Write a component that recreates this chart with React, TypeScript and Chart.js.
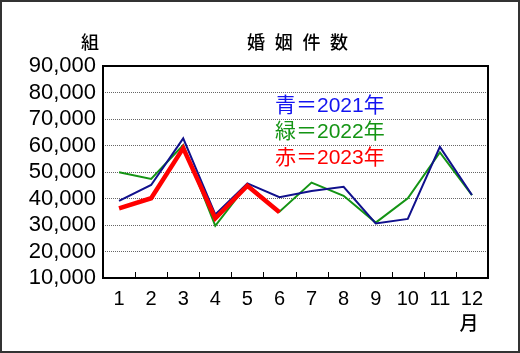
import React, { useEffect, useRef } from "react";
import { Chart, registerables } from "chart.js";

Chart.register(...registerables);

const months = ["1", "2", "3", "4", "5", "6", "7", "8", "9", "10", "11", "12"];
const y2021 = [39100, 45100, 62700, 34000, 45700, 40500, 42800, 44400, 30600, 32300, 59500, 41300];
const y2022 = [49900, 47400, 60200, 29700, 45300, 35000, 46000, 41000, 30900, 40100, 57400, 41300];
const y2023 = [36300, 40100, 59000, 32500, 44800, 34800];
const yTicks = [10000, 20000, 30000, 40000, 50000, 60000, 70000, 80000, 90000];
const legendLines = ["青＝2021年", "緑＝2022年", "赤＝2023年"];
const legendColors = ["#1414f0", "#149414", "#ff0000"];
const titleChars = ["婚", "姻", "件", "数"];
const unitText = "組";
const monthText = "月";

const NUM_FONT = '"Liberation Sans", Arial, sans-serif';
const JP_FONT = '"Liberation Sans", "Noto Sans CJK JP", sans-serif';

const decor = {
  id: "decor",
  afterDraw(chart: any) {
    const ctx = chart.ctx;
    const a = chart.chartArea;
    const xs = chart.scales.x;
    ctx.save();
    // outer frame
    ctx.strokeStyle = "#333";
    ctx.lineWidth = 2;
    ctx.strokeRect(1, 1, chart.width - 2, chart.height - 2);
    // inner tick marks between categories
    ctx.strokeStyle = "#000";
    ctx.lineWidth = 1;
    for (let i = 1; i < months.length; i++) {
      const x = Math.round((xs.getPixelForValue(i - 1) + xs.getPixelForValue(i)) / 2) + 0.5;
      ctx.beginPath();
      ctx.moveTo(x, a.bottom);
      ctx.lineTo(x, a.bottom - 6);
      ctx.stroke();
    }
    // plot border
    ctx.lineWidth = 2;
    ctx.strokeRect(a.left, a.top, a.right - a.left, a.bottom - a.top);
    // title texts
    ctx.fillStyle = "#000";
    ctx.textBaseline = "middle";
    ctx.textAlign = "center";
    ctx.font = '500 18px "Noto Sans CJK JP", sans-serif';
    titleChars.forEach((c, i) => ctx.fillText(c, 256 + i * 27.7, 42));
    ctx.fillText(unitText, 90, 42);
    ctx.font = '500 19px "Noto Sans CJK JP", sans-serif';
    ctx.fillText(monthText, 469, 323);
    // legend
    ctx.textAlign = "left";
    ctx.font = "21px " + JP_FONT;
    legendLines.forEach((t, i) => {
      ctx.fillStyle = legendColors[i];
      ctx.fillText(t, 275, 106 + i * 26);
    });
    ctx.restore();
  },
};

export default function App() {
  const ref = useRef<HTMLCanvasElement>(null);
  useEffect(() => {
    if (!ref.current) return;
    const chart = new Chart(ref.current, {
      type: "line",
      data: {
        labels: months,
        datasets: [
          { label: "2023", data: y2023, borderColor: "#ff0000", borderWidth: 4.5, pointRadius: 0, order: 0, tension: 0 },
          { label: "2021", data: y2021, borderColor: "#10108c", borderWidth: 2, pointRadius: 0, order: 1, tension: 0 },
          { label: "2022", data: y2022, borderColor: "#149414", borderWidth: 2, pointRadius: 0, order: 2, tension: 0 },
        ],
      },
      options: {
        responsive: false,
        animation: false,
        devicePixelRatio: 1,
        layout: { padding: { left: 0, right: 32, top: 66, bottom: 0 } },
        plugins: { legend: { display: false }, tooltip: { enabled: false }, title: { display: false } },
        scales: {
          x: {
            offset: true,
            grid: { display: false, drawTicks: false },
            border: { display: false },
            ticks: { color: "#000", font: { family: NUM_FONT, size: 20 }, padding: 9, maxRotation: 0, autoSkip: false },
            afterFit: (s: any) => { s.height = 75; },
          },
          y: {
            min: 10000,
            max: 90000,
            afterBuildTicks: (s: any) => { s.ticks = yTicks.map((v) => ({ value: v })); },
            grid: { color: "#666", lineWidth: 1, drawTicks: false },
            border: { display: false, dash: [1, 1] },
            ticks: {
              color: "#000",
              font: { family: NUM_FONT, size: 22 },
              padding: 7,
              autoSkip: false,
              callback: (v: any) => Number(v).toLocaleString("en-US"),
            },
            afterFit: (s: any) => { s.width = 103; },
          },
        },
      },
      plugins: [decor],
    });
    return () => chart.destroy();
  }, []);
  return (
    <div style={{ position: "absolute", left: 0, top: 0, width: 520, height: 353, background: "#fff" }}>
      <canvas ref={ref} width={520} height={353} style={{ display: "block" }} />
    </div>
  );
}
